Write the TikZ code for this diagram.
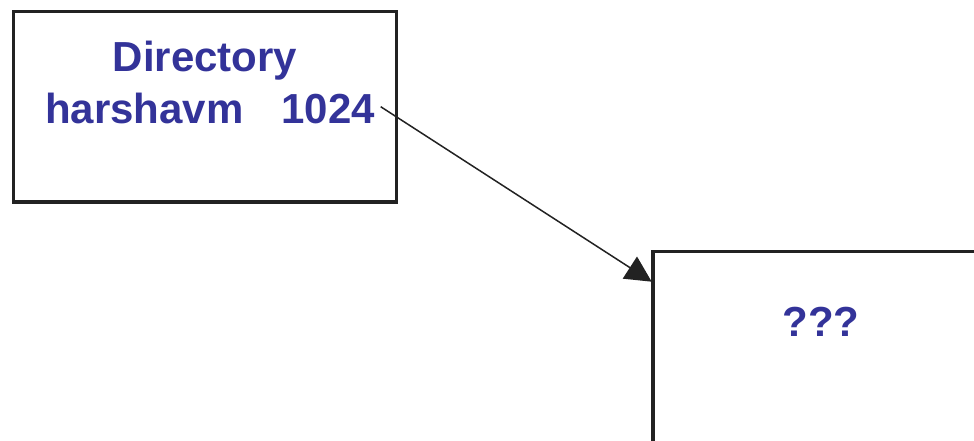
\documentclass[tikz,border=0pt]{standalone}
\usepackage{fontspec}
\setmainfont{Liberation Sans}
\usetikzlibrary{arrows.meta}
\definecolor{labelblue}{HTML}{333399}
\definecolor{framegray}{HTML}{222222}
\begin{document}
\begin{tikzpicture}[x=1pt,y=-1pt,
  boxframe/.style={draw=framegray, line width=3.2pt, inner sep=0pt},
  bluetext/.style={text=labelblue, font=\fontsize{42}{50}\selectfont\bfseries, inner sep=0pt, anchor=base},
  link/.style={draw=framegray, line width=1.5pt, -{Triangle[length=26pt,width=26pt]}}]
\useasboundingbox (0,0) rectangle (974,441);
\clip (0,0) rectangle (974,441);

% directory block
\node[boxframe, minimum width=383pt, minimum height=190.5pt] (dir) at (205,106.75) {};
\node[bluetext] (dirtitle) at (205,71.7) {Directory};
\node[bluetext, anchor=base west] (entry) at (45,123.3) {harshavm};
\node[bluetext, anchor=base east] (inum) at (375,123.3) {1024};

% target block, running off the page
\node[boxframe, minimum width=347pt, minimum height=220pt] (blk) at (826.5,361.5) {};
\node[bluetext] (unknown) at (821,336.7) {???};

% pointer from the inode number to the block
\coordinate (ptr) at (380.7,106.7);
\coordinate (hit) at (651.7,281.7);
\draw[link] (ptr) -- (hit);
\end{tikzpicture}
\end{document}
